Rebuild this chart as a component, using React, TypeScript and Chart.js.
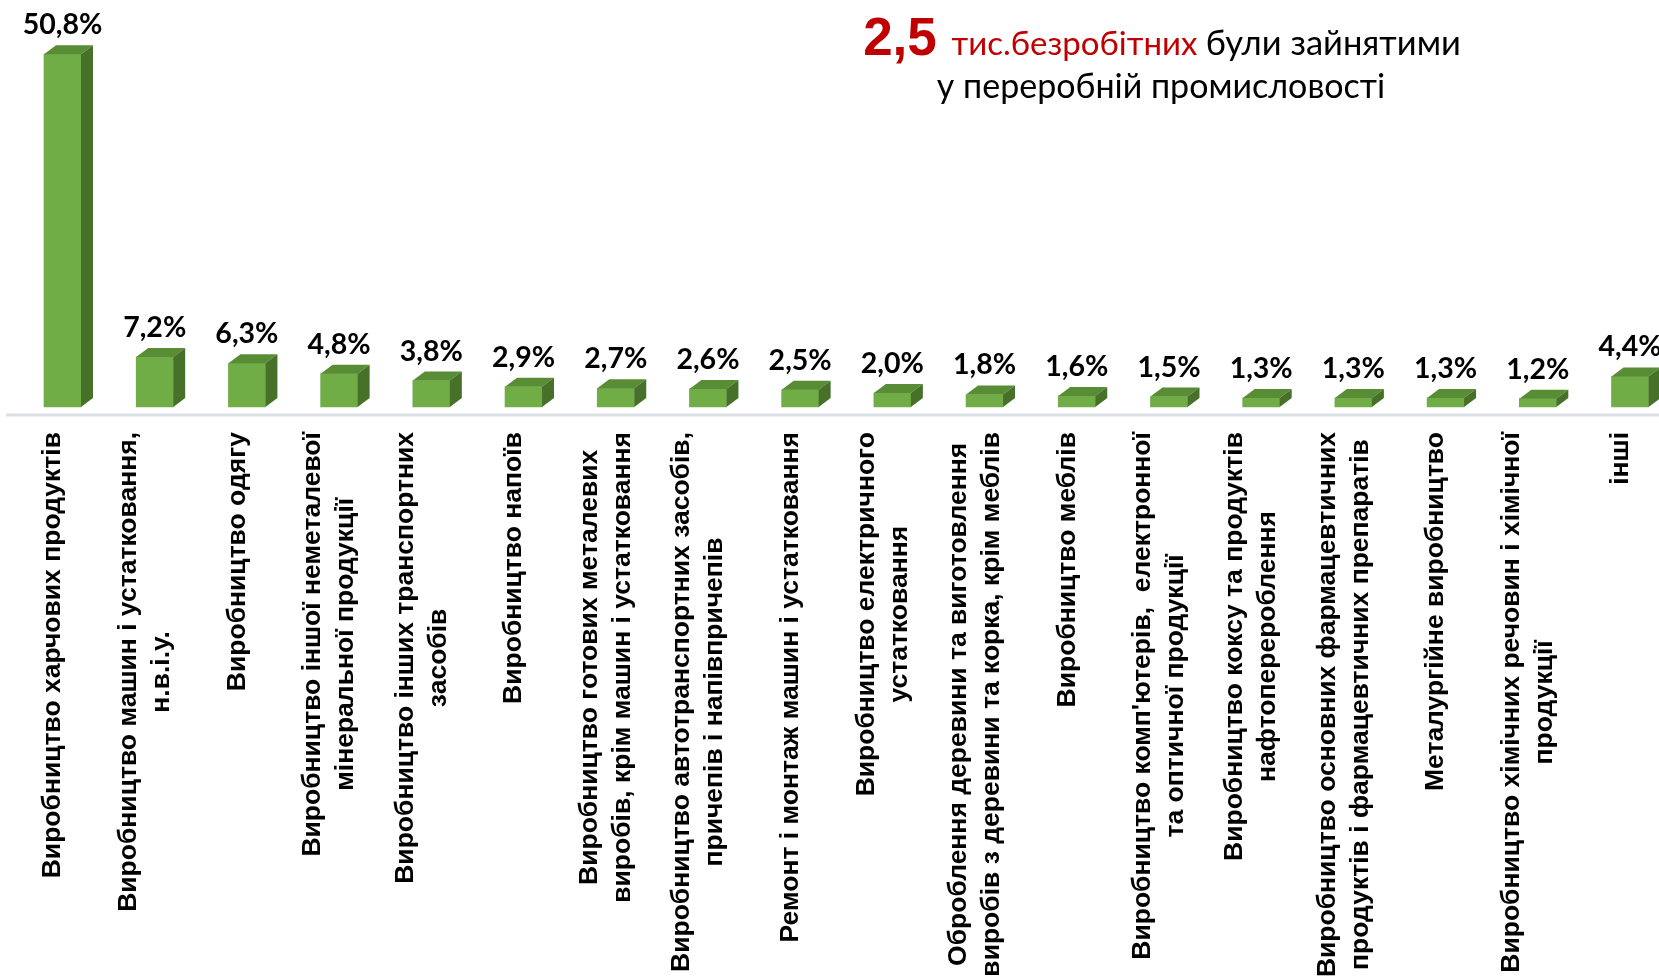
import React, { useEffect, useRef } from "react";
import { Chart, registerables } from "chart.js";

Chart.register(...registerables);

const categories: string[][] = [
  ["Виробництво харчових продуктів"],
  ["Виробництво машин і устатковання,", "н.в.і.у."],
  ["Виробництво одягу"],
  ["Виробництво іншої неметалевої", "мінеральної продукції"],
  ["Виробництво інших транспортних", "засобів"],
  ["Виробництво напоїв"],
  ["Виробництво готових металевих", "виробів, крім машин і устатковання"],
  ["Виробництво автотранспортних засобів,", "причепів і напівпричепів"],
  ["Ремонт і монтаж машин і устатковання"],
  ["Виробництво електричного", "устатковання"],
  ["Оброблення деревини та виготовлення", "виробів з деревини та корка, крім меблів"],
  ["Виробництво меблів"],
  ["Виробництво комп'ютерів,  електронної", "та оптичної продукції"],
  ["Виробництво коксу та продуктів", "нафтоперероблення"],
  ["Виробництво основних фармацевтичних", "продуктів і фармацевтичних препаратів"],
  ["Металургійне виробництво"],
  ["Виробництво хімічних речовин і хімічної", "продукції"],
  ["інші"],
];

const shares: number[] = [50.8, 7.2, 6.3, 4.8, 3.8, 2.9, 2.7, 2.6, 2.5, 2.0, 1.8, 1.6, 1.5, 1.3, 1.3, 1.3, 1.2, 4.4];

const valueLabels: string[] = shares.map((v) => v.toFixed(1).replace(".", ",") + "%");

const titleBig = "2,5";
const titleRed = "тис.безробітних";
const titleBlack1 = "були зайнятими";
const titleLine2 = "у переробній промисловості";

const FRONT = "#70ad47";
const TOP = "#588c35";
const SIDE = "#477029";
const DX = 12;
const DY = 9;

const bar3d = {
  id: "bar3d",
  afterDatasetsDraw(chart: any) {
    const ctx = chart.ctx;
    const meta = chart.getDatasetMeta(0);
    const area = chart.chartArea;
    ctx.save();
    // floor line
    ctx.strokeStyle = "#dadfe6";
    ctx.lineWidth = 3;
    ctx.beginPath();
    ctx.moveTo(6, area.bottom + 8);
    ctx.lineTo(chart.width, area.bottom + 8);
    ctx.stroke();

    meta.data.forEach((el: any, i: number) => {
      const p = el.getProps(["x", "y", "base", "width"], true);
      const xl = p.x - p.width / 2;
      const xr = p.x + p.width / 2;
      const yt = p.y;
      const yb = p.base;
      ctx.fillStyle = TOP;
      ctx.beginPath();
      ctx.moveTo(xl, yt);
      ctx.lineTo(xr, yt);
      ctx.lineTo(xr + DX, yt - DY);
      ctx.lineTo(xl + DX, yt - DY);
      ctx.closePath();
      ctx.fill();
      ctx.fillStyle = SIDE;
      ctx.beginPath();
      ctx.moveTo(xr, yt);
      ctx.lineTo(xr + DX, yt - DY);
      ctx.lineTo(xr + DX, yb - DY);
      ctx.lineTo(xr, yb);
      ctx.closePath();
      ctx.fill();
      ctx.fillStyle = "#000";
      ctx.font = "bold 28.5px Lato";
      ctx.textAlign = "center";
      ctx.textBaseline = "alphabetic";
      ctx.fillText(valueLabels[i], p.x, yt - 20);
    });

    // category labels
    const xs = chart.scales.x;
    ctx.font = "bold 26.5px 'Liberation Sans', Arial";
    ctx.fillStyle = "#000";
    categories.forEach((lines, i) => {
      const cx = xs.getPixelForValue(i) - 9.5;
      const maxW = Math.max(...lines.map((l) => ctx.measureText(l).width));
      const lh = 33;
      ctx.save();
      ctx.translate(cx, area.bottom + 25);
      ctx.rotate(-Math.PI / 2);
      ctx.textAlign = "center";
      ctx.textBaseline = "middle";
      lines.forEach((l, j) => {
        ctx.fillText(l, -maxW / 2, (j - (lines.length - 1) / 2) * lh);
      });
      ctx.restore();
    });

    // title
    const segs = [
      { t: titleBig + " ", f: "bold 53px 'Liberation Sans', Arial", c: "#c00000" },
      { t: titleRed + " ", f: "33px Lato", c: "#c00000" },
      { t: titleBlack1, f: "34.5px Lato", c: "#000" },
    ];
    let total = 0;
    segs.forEach((s) => {
      ctx.font = s.f;
      total += ctx.measureText(s.t).width;
    });
    let x = 1162 - total / 2;
    ctx.textAlign = "left";
    ctx.textBaseline = "alphabetic";
    segs.forEach((s) => {
      ctx.font = s.f;
      ctx.fillStyle = s.c;
      ctx.fillText(s.t, x, 55);
      x += ctx.measureText(s.t).width;
    });
    ctx.font = "34px Lato";
    ctx.fillStyle = "#000";
    ctx.textAlign = "center";
    ctx.fillText(titleLine2, 1161, 98);
    ctx.restore();
  },
};

export default function App() {
  const ref = useRef<HTMLCanvasElement | null>(null);
  useEffect(() => {
    document.body.style.margin = "0";
    if (!ref.current) return;
    const chart = new Chart(ref.current, {
      type: "bar",
      data: {
        labels: categories.map((c) => c.join(" ")),
        datasets: [
          {
            data: shares,
            backgroundColor: FRONT,
            borderWidth: 0,
            barThickness: 37,
            clip: false as any,
          },
        ],
      },
      options: {
        animation: false,
        responsive: false,
        maintainAspectRatio: false,
        layout: { padding: { left: 62.5, right: 29, top: 25, bottom: 570 } },
        plugins: { legend: { display: false }, tooltip: { enabled: false }, title: { display: false } },
        scales: {
          x: {
            type: "category",
            offset: false,
            display: false,
            grid: { display: false, offset: false },
          },
          y: {
            display: false,
            min: 0,
            max: 55,
          },
        },
      },
      plugins: [bar3d],
    });
    return () => chart.destroy();
  }, []);
  return (
    <div style={{ width: 1659, height: 977, background: "#fff" }}>
      <canvas ref={ref} width={1659} height={977} style={{ display: "block" }} />
    </div>
  );
}
